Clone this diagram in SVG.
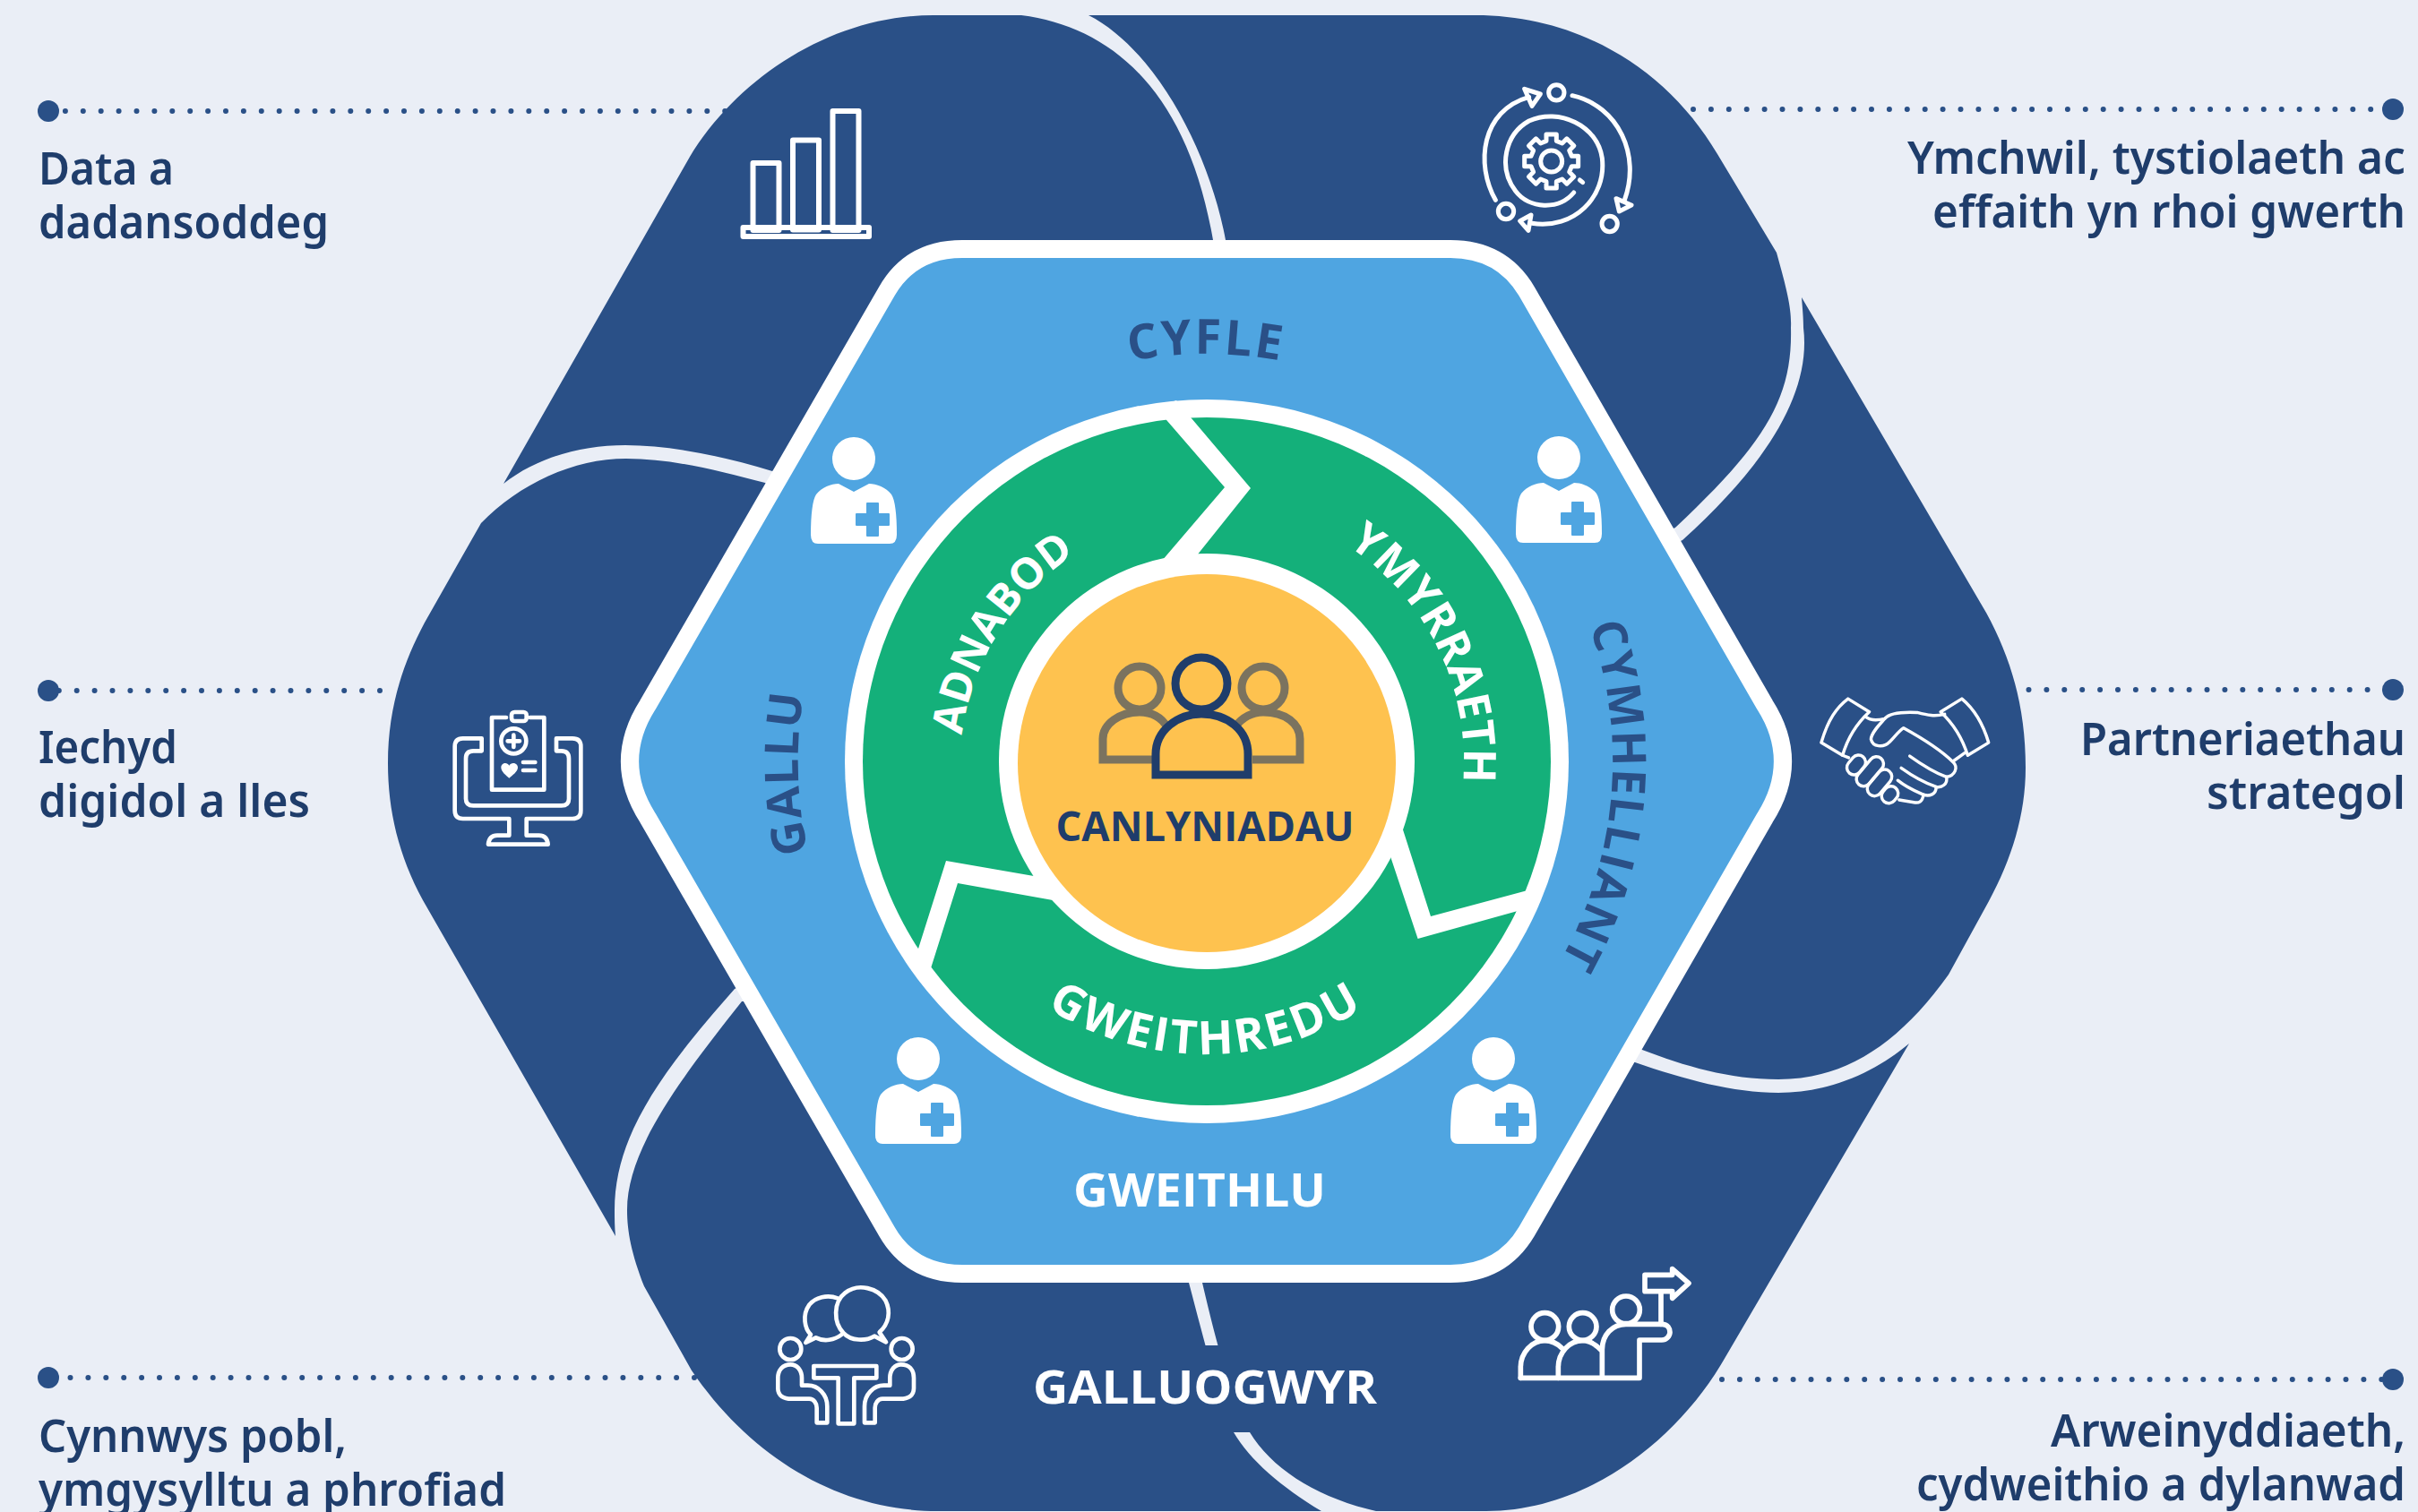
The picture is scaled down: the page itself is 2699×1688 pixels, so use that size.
<svg xmlns="http://www.w3.org/2000/svg" xmlns:xlink="http://www.w3.org/1999/xlink" width="2699" height="1688" viewBox="0 0 2699 1688">
<style>
.piece{fill:#2a5087}
.dots{fill:none;stroke:#2a5087;stroke-width:6;stroke-linecap:round;stroke-dasharray:0 19.9}
.end{fill:#2a5087}
.lab{font-family:"Noto Sans","Open Sans",sans-serif;font-weight:600;font-size:50px;fill:#1f3d6b}
.r{text-anchor:end}
.head{font-family:"Open Sans","Noto Sans",sans-serif;font-weight:700}
.ic{fill:none;stroke:#fff;stroke-linejoin:round;stroke-linecap:round}
</style>
<defs>
<path id="pCyfle" d="M891,850 A455,455 0 0 1 1801,850"/>
<path id="pCym" d="M1386.500,398.700 A453,453 0 0 1 1307.500,1301.300"/>
<path id="pGallu" d="M1359,1308.800 A459,459 0 0 1 1333,391.200"/>
<path id="pGweith" d="M1019,850 A327,327 0 0 0 1673,850"/>
<path id="pAdn" d="M1194,1093 A287,287 0 0 1 1498,607"/>
<path id="pYmy" d="M1219.700,591.100 A288,288 0 0 1 1472.300,1108.900"/>
<g id="doc">
<circle cx="0" cy="0" r="24" fill="#fff"/>
<path d="M-48,85 C-48,62 -46,46 -42,40 C-36,32 -25,28 -17,28 L0,37 L17,28 C25,28 36,32 42,40 C46,46 48,62 48,85 Q48,95 40,95 L-40,95 Q-48,95 -48,85 Z" fill="#fff"/>
<path d="M15,50 H27 V62 H39 V74 H27 V86 H15 V74 H3 V62 H15 Z" fill="#4fa5e1" stroke="#4fa5e1" stroke-width="2" stroke-linejoin="round"/>
</g>
</defs>
<rect width="2699" height="1688" fill="#eaeef6"/>
<g id="connectors">
<path class="dots" d="M53,124 H812"/>
<path class="dots" d="M424,771 H53"/>
<path class="dots" d="M775,1538 H53"/>
<path class="dots" d="M1890,122 H2672"/>
<path class="dots" d="M2264.500,770 H2672"/>
<path class="dots" d="M1922,1540 H2672"/>
<circle class="end" cx="54" cy="124" r="12"/>
<circle class="end" cx="54" cy="771" r="12"/>
<circle class="end" cx="54" cy="1538" r="12"/>
<circle class="end" cx="2671" cy="122" r="12"/>
<circle class="end" cx="2671" cy="770" r="12"/>
<circle class="end" cx="2671" cy="1540" r="12"/>
</g>
<g id="node-data">
<path class="piece" d="M562,540 L770,175 C825,85 930,17 1042,17 L1140,17 C1240,30 1325,100 1354,268 L1354,400 L862,526 C810,510 750,497 698,497 C650,497 600,510 562,540 Z"/>
<g class="ic" stroke-width="6">
<rect x="840.500" y="182" width="29" height="75"/>
<rect x="885" y="156.500" width="29" height="100"/>
<rect x="929.500" y="124" width="29" height="133"/>
<rect x="829.500" y="254" width="140.500" height="10"/>
</g>
<text class="lab" x="43" y="206" textLength="151" lengthAdjust="spacingAndGlyphs">Data a</text>
<text class="lab" x="43" y="266" textLength="324" lengthAdjust="spacingAndGlyphs">dadansoddeg</text>
</g>
<g id="node-ymchwil">
<path class="piece" d="M1215,17 L1647,17 C1760,17 1860,75 1917,172 L1983,282 C1995,325 2000,345 1999,366 C2001,445 1970,495 1870,589 L1346,850 L1368,268 C1350,170 1290,55 1215,17 Z"/>
<g transform="translate(1600,60) scale(.33333)" class="ic" stroke-width="15">
<circle cx="412" cy="130" r="26"/>
<circle cx="243" cy="528" r="26"/>
<circle cx="590" cy="570" r="26"/>
<path d="M208,490 C140,370 160,190 320,145"/>
<path d="M465,140 C620,175 695,340 640,490"/>
<path d="M470,465 C420,525 320,520 275,460 C215,380 240,270 320,225 C420,180 550,240 565,350 C580,480 470,590 330,568"/>
<path d="M305,118 L358,135 L330,175 Z"/>
<path d="M612,485 L663,507 L622,528 Z"/>
<path d="M327,540 L290,560 L318,592 Z"/>
<polygon transform="translate(395,360)" points="-17,-68 -17,-90 17,-90 17,-68 36.100,-60.100 51.600,-75.600 75.600,-51.600 60.100,-36.100 68,-17 90,-17 90,17 68,17 60.100,36.100 75.600,51.600 51.600,75.600 36.100,60.100 17,68 17,90 -17,90 -17,68 -36.100,60.100 -51.600,75.600 -75.600,51.600 -60.100,36.100 -68,17 -90,17 -90,-17 -68,-17 -60.100,-36.100 -75.600,-51.600 -51.600,-75.600 -36.100,-60.100"/>
<circle cx="395" cy="360" r="36"/>
<path d="M490,423 L500,431"/>
</g>
<text class="lab r" x="2685" y="194" textLength="556" lengthAdjust="spacingAndGlyphs">Ymchwil, tystiolaeth ac</text>
<text class="lab r" x="2685" y="254" textLength="528" lengthAdjust="spacingAndGlyphs">effaith yn rhoi gwerth</text>
</g>
<g id="node-partner">
<path class="piece" d="M2011,332 L2217,684 C2245,735 2261,790 2261,857 C2261,910 2245,960 2220,1006 L2175,1088 C2120,1165 2060,1205 1985,1205 C1930,1205 1880,1190 1833,1172 L1346,850 L1878,603 C1970,520 2022,440 2013,366 C2013,355 2012,345 2011,332 Z"/>
<g transform="translate(1700,650) scale(.3827)" class="ic" stroke-width="9">
<path d="M948,340 L1010,378 C970,415 945,460 932,505 L870,468 C890,400 915,365 948,340 Z"/>
<path d="M1280,340 L1218,378 C1258,415 1283,460 1297,505 L1358,468 C1338,400 1310,365 1280,340 Z"/>
<path d="M1000,393 C1015,405 1035,403 1055,398 C1070,380 1110,378 1150,380 C1180,388 1200,392 1230,385"/>
<path d="M1055,398 C1040,415 1015,440 1015,458 C1020,480 1050,485 1070,465 C1085,450 1095,435 1110,425 C1170,458 1220,490 1255,525 C1270,540 1260,565 1235,568 C1200,555 1160,530 1128,507"/>
<path d="M1235,568 C1240,590 1220,600 1205,597 C1170,585 1135,565 1103,542"/>
<path d="M1205,597 C1205,620 1185,625 1168,620 C1145,610 1120,600 1093,578"/>
<path d="M1168,620 C1165,640 1155,645 1140,642 L1097,635"/>
<path d="M1255,522 L1290,497"/>
<path d="M932,505 L950,512"/>
<rect x="-31" y="-21" width="62" height="42" rx="21" transform="translate(972,533) rotate(-50)"/>
<rect x="-50" y="-21" width="100" height="42" rx="21" transform="translate(1012,552) rotate(-50)"/>
<rect x="-44" y="-21" width="88" height="42" rx="21" transform="translate(1040,585) rotate(-50)"/>
<rect x="-26" y="-21" width="52" height="42" rx="21" transform="translate(1070,620) rotate(-50)"/>
</g>
<text class="lab r" x="2685" y="843" textLength="363" lengthAdjust="spacingAndGlyphs">Partneriaethau</text>
<text class="lab r" x="2685" y="903" textLength="222" lengthAdjust="spacingAndGlyphs">strategol</text>
</g>
<g id="node-arwein">
<path class="piece" d="M2131,1165 L1923,1520 C1870,1610 1770,1687 1659,1687 L1536,1687 C1470,1672 1420,1640 1395,1599 C1375,1560 1360,1510 1342,1432 L1346,1000 L1825,1186 C1880,1205 1935,1220 1985,1220 C2045,1220 2095,1195 2131,1165 Z"/>
<g transform="translate(1660,1400) scale(.33333)" class="ic" stroke-width="17">
<circle cx="193" cy="243" r="46"/>
<circle cx="320" cy="243" r="46"/>
<circle cx="465" cy="187" r="46"/>
<path d="M238,415 V380 C238,330 275,290 320,290 C340,290 360,300 380,320"/>
<path d="M112,415 V380 C112,330 150,290 193,290 C215,290 235,300 250,315"/>
<path d="M385,415 V320 C385,270 420,235 465,235 H585 C605,235 612,250 612,262 C612,275 600,288 585,288 H510 V415 H112"/>
<path d="M582,235 V130"/>
<path d="M582,125 H528 V70 H620 V50 L675,98 L620,148 V125 Z"/>
</g>
<text class="lab r" x="2685" y="1615" textLength="396" lengthAdjust="spacingAndGlyphs">Arweinyddiaeth,</text>
<text class="lab r" x="2685" y="1675" textLength="546" lengthAdjust="spacingAndGlyphs">cydweithio a dylanwad</text>
</g>
<g id="node-cynnwys">
<path class="piece" d="M828,1118 C755,1210 700,1285 700,1351 C700,1375 705,1400 719,1436 L772,1530 C840,1630 940,1687 1047,1687 L1475,1687 C1430,1660 1395,1630 1377,1599 C1360,1560 1345,1500 1327,1432 L1346,1100 Z"/>
<g transform="translate(840,1410) scale(.33333)" class="ic" stroke-width="14">
<path d="M425,232 L447,265 L408,245 C380,262 330,262 305,235 C270,200 270,130 310,100 C355,65 420,85 445,125 C465,165 455,205 425,232 Z"/>
<path d="M285,118 C250,105 210,115 190,140 C165,175 175,220 195,240 L178,267 L212,250 C240,265 275,258 298,240"/>
<circle cx="127" cy="288" r="36"/>
<circle cx="500" cy="288" r="36"/>
<path d="M205,345 H415 V385 H340 V538 H287 V385 H205 Z"/>
<path d="M127,340 C100,340 85,360 85,385 V420 C85,445 105,455 130,455 H190 C205,455 215,470 215,485 V535 H250 V480 C250,440 220,410 185,410 H165 V385 C165,360 150,340 127,340 Z"/>
<path d="M497,340 C527,340 540,360 540,385 V420 C540,445 520,455 495,455 H435 C420,455 410,470 410,485 V535 H375 V480 C375,440 405,410 440,410 H460 V385 C460,360 475,340 497,340 Z"/>
</g>
<text class="lab" x="43" y="1621" textLength="344" lengthAdjust="spacingAndGlyphs">Cynnwys pobl,</text>
<text class="lab" x="43" y="1681" textLength="522" lengthAdjust="spacingAndGlyphs">ymgysylltu a phrofiad</text>
</g>
<g id="node-iechyd">
<path class="piece" d="M537,584 L474,695 C450,740 433,790 433,852 C433,905 445,955 472,1005 L687,1380 C686,1370 686,1360 686,1351 C686,1270 735,1200 820,1104 L1346,850 L854,539 C800,525 750,512 699,512 C640,512 580,540 537,584 Z"/>
<g transform="translate(490,780) scale(.33333)" class="ic" stroke-width="14">
<path d="M225,63 H177 V305 H352 V63 H305"/>
<rect x="243" y="45" width="50" height="30" rx="10"/>
<circle cx="250" cy="142" r="42"/>
<path d="M250,122 V162 M230,142 H270"/>
<path d="M282,213 H322 M282,240 H322"/>
<path d="M143,133 H80 Q53,133 53,160 V375 Q53,402 80,402 H235 V458 H195 Q168,458 165,488 H365 Q362,458 335,458 H293 V402 H447 Q475,402 475,375 V160 Q475,133 447,133 H393 V175 H410 Q435,175 435,200 V335 Q435,358 410,358 H115 Q90,358 90,335 V200 Q90,175 115,175 H143 Z"/>
<path d="M235,266 C225,256 208,245 208,230 C208,215 228,210 235,224 C242,210 264,215 264,230 C264,245 245,256 235,266 Z" fill="#fff" stroke="none"/>
</g>
<text class="lab" x="43" y="852" textLength="155" lengthAdjust="spacingAndGlyphs">Iechyd</text>
<text class="lab" x="43" y="912" textLength="303" lengthAdjust="spacingAndGlyphs">digidol a lles</text>
</g>
<g id="node-galluogwyr">
<rect x="1320" y="1502" width="90" height="97" fill="#2a5087"/>
<text class="head" x="1345" y="1567" font-size="52" fill="#fff" text-anchor="middle" textLength="384" lengthAdjust="spacingAndGlyphs">GALLUOGWYR</text>
</g>
<g id="node-hexagon">
<path d="M1074,278 L1619,278 Q1676,278 1704,325 L1970,787 Q2010,850 1970,913 L1704,1375 Q1676,1422 1619,1422 L1074,1422 Q1017,1422 990,1375 L723,913 Q683,850 723,787 L990,325 Q1017,278 1074,278 Z" fill="#4fa5e1" stroke="#fff" stroke-width="20" stroke-linejoin="round"/>
<text class="head" font-size="54" fill="#2a5087" letter-spacing="2.500"><textPath xlink:href="#pCyfle" href="#pCyfle" startOffset="50%" text-anchor="middle">CYFLE</textPath></text>
<text class="head" font-size="52" fill="#2a5087" letter-spacing="1.8"><textPath xlink:href="#pCym" href="#pCym" startOffset="50%" text-anchor="middle">CYMHELLIANT</textPath></text>
<text class="head" font-size="52" fill="#2a5087" letter-spacing="1.400"><textPath xlink:href="#pGallu" href="#pGallu" startOffset="50%" text-anchor="middle">GALLU</textPath></text>
<text class="head" x="1339" y="1347" font-size="52" fill="#fff" text-anchor="middle" textLength="282" lengthAdjust="spacingAndGlyphs">GWEITHLU</text>
<use href="#doc" x="953" y="512"/>
<use href="#doc" x="1740" y="511"/>
<use href="#doc" x="1025" y="1182"/>
<use href="#doc" x="1667" y="1182"/>
</g>
<g id="node-cycle">
<circle cx="1347" cy="850" r="404" fill="#fff"/>
<circle cx="1347" cy="850" r="384" fill="#14b07a"/>
<polygon points="1290,455 1367,544 1285,640 1320,640 1396,545 1313,447" fill="#fff"/>
<polygon points="1020,1075 1056,961 1200,986 1220,1013 1069,986 1033,1100" fill="#fff"/>
<polygon points="1555,892 1597,1023 1720,990 1712,1012 1582.600,1048 1540,920" fill="#fff"/>
<text class="head" font-size="48" fill="#fff"><textPath xlink:href="#pAdn" href="#pAdn" startOffset="50%" text-anchor="middle">ADNABOD</textPath></text>
<text class="head" font-size="50" fill="#fff" letter-spacing="0.500"><textPath xlink:href="#pYmy" href="#pYmy" startOffset="50%" text-anchor="middle">YMYRRAETH</textPath></text>
<text class="head" font-size="52" fill="#fff" letter-spacing="3"><textPath xlink:href="#pGweith" href="#pGweith" startOffset="50%" text-anchor="middle">GWEITHREDU</textPath></text>
</g>
<g id="node-canlyniadau">
<circle cx="1347" cy="850" r="232" fill="#fff"/>
<circle cx="1347" cy="852" r="211" fill="#fec24f"/>
<g fill="none" stroke="#7b735f" stroke-width="9">
<circle cx="1272" cy="768" r="24"/>
<circle cx="1410" cy="768" r="24"/>
<path d="M1286,848 H1231 V825 C1231,808 1250,795 1272,795 C1285,795 1296,800 1303,812"/>
<path d="M1398,848 H1451 V825 C1451,808 1435,795 1410,795 C1395,795 1385,803 1378,812"/>
</g>
<g fill="none" stroke="#1f3d6b" stroke-width="9">
<circle cx="1341" cy="763" r="29"/>
<path d="M1290,865 V842 C1290,815 1315,797 1341,797 C1370,797 1393,815 1393,842 V865 Z" fill="#fec24f"/>
</g>
<text class="head" x="1345" y="939" font-size="46" fill="#1f3d6b" text-anchor="middle" textLength="333" lengthAdjust="spacingAndGlyphs">CANLYNIADAU</text>
</g>
</svg>
